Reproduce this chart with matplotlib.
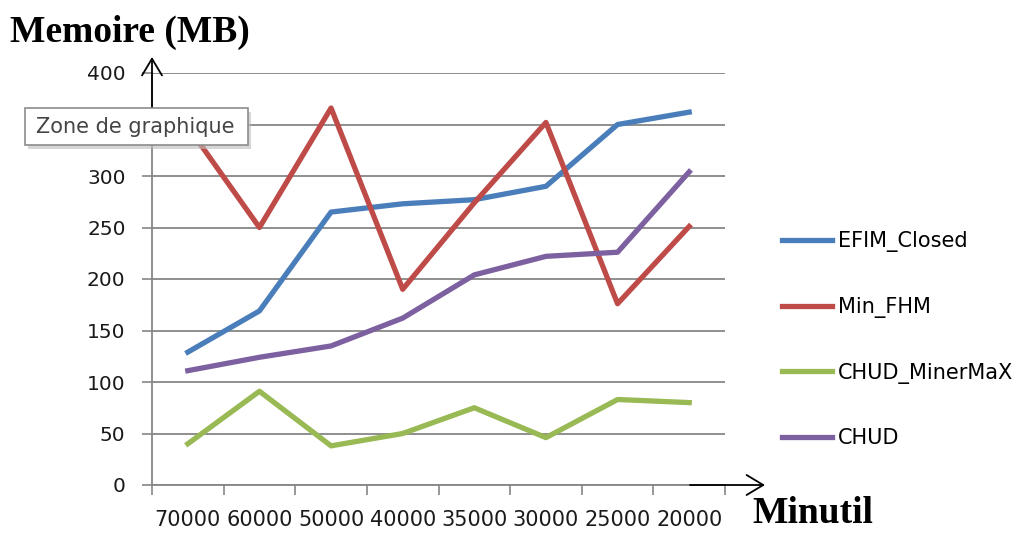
import matplotlib
matplotlib.use('Agg')
import matplotlib.pyplot as plt
from matplotlib.patches import FancyBboxPatch
import numpy as np

# data
minutil = ['70000', '60000', '50000', '40000', '35000', '30000', '25000', '20000']
efim_closed = [129, 169, 265, 273, 277, 290, 350, 362]
min_fhm = [348, 250, 366, 190, 274, 352, 176, 251]
chud_minermax = [40, 91, 38, 50, 75, 46, 83, 80]
chud = [111, 124, 135, 162, 204, 222, 226, 304]
yticks = [0, 50, 100, 150, 200, 250, 300, 350, 400]
ytick_labels = ['0', '50', '100', '150', '200', '250', '300', '', '400']

W, H = 1035, 534
fig = plt.figure(figsize=(W / 100, H / 100), dpi=100)
ax = fig.add_axes([152 / W, 1 - 485 / H, (725 - 152) / W, (485 - 73) / H])

x = np.arange(len(minutil))
lw = 3.8
ax.plot(x, efim_closed, color='#4A7EBB', lw=lw, label='EFIM_Closed', zorder=3)
ax.plot(x, min_fhm, color='#BE4B48', lw=lw, label='Min_FHM', zorder=3)
ax.plot(x, chud_minermax, color='#98B954', lw=lw, label='CHUD_MinerMaX', zorder=3)
ax.plot(x, chud, color='#7D60A0', lw=lw, label='CHUD', zorder=3)

ax.set_xlim(-0.5, len(minutil) - 0.5)
ax.set_ylim(0, 400)
ax.set_yticks(yticks)
ax.set_yticklabels(ytick_labels)
ax.set_xticks(x)
ax.set_xticklabels(minutil)
ax.set_xticks(np.arange(len(minutil) + 1) - 0.5, minor=True)
ax.tick_params(axis='x', which='major', length=0, pad=18, labelsize=15, labelcolor='#1a1a1a')
ax.tick_params(axis='x', which='minor', length=7, width=1.2, color='#868686')
ax.tick_params(axis='y', length=7, width=1.2, color='#868686', pad=12, labelsize=14.5, labelcolor='#1a1a1a')

ax.grid(axis='y', color='#868686', lw=1.3)
ax.set_axisbelow(True)
for s in ['top', 'right']:
    ax.spines[s].set_visible(False)
for s in ['left', 'bottom']:
    ax.spines[s].set_color('#868686')
    ax.spines[s].set_linewidth(1.3)

# axis arrows
arrow = dict(arrowstyle='->,head_length=0.6,head_width=0.36', color='black', lw=1.3,
             mutation_scale=20, shrinkA=0, shrinkB=0)
ax.annotate('', xy=(765, H - 485), xytext=(690, H - 485), xycoords='figure pixels',
            textcoords='figure pixels', arrowprops=arrow, annotation_clip=False)
ax.annotate('', xy=(152, H - 57), xytext=(152, H - 130), xycoords='figure pixels',
            textcoords='figure pixels', arrowprops=arrow, annotation_clip=False)

fig.text(10 / W, 1 - 42 / H, 'Memoire (MB)', family='Liberation Serif', weight='bold', fontsize=27)
fig.text(752 / W, 1 - 523 / H, 'Minutil', family='Liberation Serif', weight='bold', fontsize=27)

ax.legend(loc='upper left', bbox_to_anchor=(782 / W, 1 - 231 / H), bbox_transform=fig.transFigure,
          frameon=False, fontsize=15, handlelength=2.4, handletextpad=0.3, labelspacing=2.15,
          borderaxespad=0, borderpad=0)

# "Zone de graphique" tooltip
shadow = FancyBboxPatch((28 / W, 1 - 149 / H), 223 / W, 37 / H, boxstyle='square,pad=0',
                        transform=fig.transFigure, fc='#bbbbbb', ec='none', alpha=0.6, zorder=9)
box = FancyBboxPatch((25 / W, 1 - 145 / H), 223 / W, 37 / H, boxstyle='square,pad=0',
                     transform=fig.transFigure, fc='white', ec='#8c8c8c', lw=1.2, zorder=10)
fig.patches.extend([shadow, box])
fig.text(36 / W, 1 - 127 / H, 'Zone de graphique', fontsize=15, color='#454545',
         va='center', zorder=11)

fig.savefig('out.png', dpi=100)
